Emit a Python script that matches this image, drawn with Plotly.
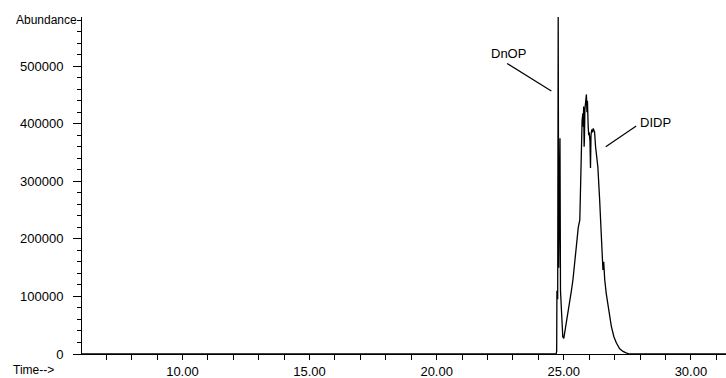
import plotly.graph_objects as go

# Retention time (min) and abundance
time_min = [6.00, 24.70, 24.72, 24.73, 24.75, 24.76, 24.78, 24.80, 24.83, 24.85,
            24.87, 24.92, 24.96, 25.00, 25.05, 25.10, 25.16, 25.23, 25.30, 25.36,
            25.43, 25.50, 25.57, 25.63, 25.65, 25.69, 25.72, 25.75, 25.77, 25.78,
            25.80, 25.81, 25.83, 25.86, 25.89, 25.91, 25.93, 25.96, 25.98, 26.00,
            26.03, 26.05, 26.07, 26.10, 26.13, 26.16, 26.19, 26.21, 26.25, 26.30,
            26.34, 26.41, 26.45, 26.50, 26.54, 26.57, 26.58, 26.61, 26.67, 26.74,
            26.80, 26.87, 26.97, 27.07, 27.20, 27.33, 27.45, 27.59, 31.50]
abundance = [0, 0, 5000, 110000, 100000, 95000, 588000, 150000, 300000, 375000,
             110000, 50000, 30000, 27000, 40000, 60000, 70000, 90000, 110000, 129000,
             160000, 198000, 220000, 233000, 290000, 325000, 406000, 418000, 395000, 430000,
             360000, 370000, 425000, 440000, 451000, 420000, 440000, 395000, 380000, 385000,
             370000, 323000, 380000, 390000, 385000, 392000, 388000, 386000, 360000, 340000,
             325000, 268000, 233000, 175000, 146000, 160000, 140000, 129000, 105000, 83000,
             63000, 48000, 30000, 19000, 9000, 4500, 2000, 0, 0]

# Axis settings
x_range = [6.05, 31.38]
y_range = [0, 585500]

# Peak labels: (text, text_x, text_y, line_x0, line_y0, line_x1, line_y1)
peak_labels = [
    ("DnOP", 22.83, 522000, 22.77, 504700, 24.51, 457000),
    ("DIDP", 28.59, 403000, 27.85, 396000, 26.65, 360000),
]

FONT = "Liberation Sans, Arial, sans-serif"

fig = go.Figure()
fig.add_trace(go.Scatter(
    x=time_min, y=abundance, mode="lines",
    line=dict(color="black", width=1.3),
    hoverinfo="skip", showlegend=False,
))

for text, tx, ty, x0, y0, x1, y1 in peak_labels:
    fig.add_annotation(x=tx, y=ty, xref="x", yref="y", text=text, showarrow=False,
                       font=dict(family=FONT, size=13, color="black"))
    fig.add_shape(type="line", xref="x", yref="y", x0=x0, y0=y0, x1=x1, y1=y1,
                  line=dict(color="black", width=1.2))

fig.add_annotation(x=-0.005, y=0.99, xref="paper", yref="paper", text="Abundance",
                   showarrow=False, xanchor="right", yanchor="middle",
                   font=dict(family=FONT, size=12, color="black"))
fig.add_annotation(x=-0.11, y=-0.0465, xref="paper", yref="paper", text="Time-->",
                   showarrow=False, xanchor="left", yanchor="middle",
                   font=dict(family=FONT, size=12, color="black"))

fig.update_layout(
    width=726, height=378,
    margin=dict(l=81.5, r=0, t=16.7, b=23.7),
    paper_bgcolor="white", plot_bgcolor="white",
    font=dict(family=FONT, size=13, color="black"),
    xaxis=dict(
        range=x_range, showgrid=False, zeroline=False,
        showline=True, linecolor="black", linewidth=1,
        tick0=0, dtick=5, tickformat=".2f", ticks="outside", ticklen=5,
        tickcolor="black", tickwidth=1,
        minor=dict(dtick=1, tick0=0, ticks="outside", ticklen=5, tickcolor="black"),
        tickfont=dict(family=FONT, size=13, color="black"),
    ),
    yaxis=dict(
        range=y_range, showgrid=False, zeroline=False,
        showline=True, linecolor="black", linewidth=1,
        tick0=0, dtick=100000, tickformat="d", ticks="outside", ticklen=8,
        tickcolor="black", tickwidth=1, ticklabelstandoff=7,
        minor=dict(dtick=20000, tick0=0, ticks="outside", ticklen=4, tickcolor="black"),
        tickfont=dict(family=FONT, size=13, color="black"),
    ),
)

fig.write_html("out.html")
